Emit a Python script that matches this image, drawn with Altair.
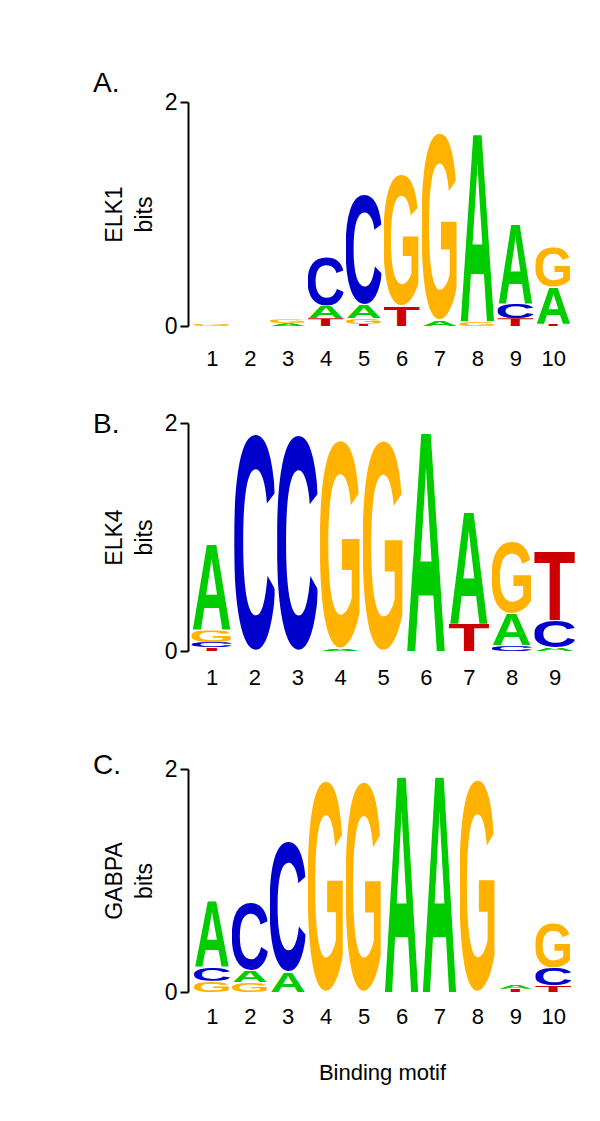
import base64
import altair as alt
import pandas as pd

# ---------------- data (information content in bits, read from the logos) ----------------
POS10 = [1, 2, 3, 4, 5, 6, 7, 8, 9, 10]
POS9 = [1, 2, 3, 4, 5, 6, 7, 8, 9]

ELK1_A = [0.0, 0.0, 0.025, 0.11, 0.12, 0.0, 0.05, 1.73, 0.73, 0.33]
ELK1_C = [0.0, 0.0, 0.0, 0.46, 1.02, 0.0, 0.0, 0.0, 0.13, 0.0]
ELK1_G = [0.02, 0.0, 0.035, 0.0, 0.05, 1.22, 1.74, 0.04, 0.0, 0.37]
ELK1_T = [0.0, 0.0, 0.0, 0.07, 0.02, 0.18, 0.0, 0.0, 0.07, 0.02]

ELK4_A = [0.77, 0.0, 0.0, 0.02, 0.0, 1.98, 1.02, 0.28, 0.03]
ELK4_C = [0.05, 1.98, 1.97, 0.0, 0.0, 0.0, 0.0, 0.05, 0.24]
ELK4_G = [0.10, 0.0, 0.0, 1.90, 1.92, 0.0, 0.0, 0.65, 0.0]
ELK4_T = [0.03, 0.0, 0.0, 0.0, 0.0, 0.0, 0.24, 0.0, 0.62]

GABPA_A = [0.61, 0.10, 0.18, 0.0, 0.0, 2.0, 2.0, 0.0, 0.04, 0.0]
GABPA_C = [0.12, 0.63, 1.22, 0.0, 0.0, 0.0, 0.0, 0.0, 0.0, 0.16]
GABPA_G = [0.10, 0.09, 0.0, 1.97, 1.96, 0.0, 0.0, 1.98, 0.0, 0.42]
GABPA_T = [0.0, 0.0, 0.0, 0.0, 0.0, 0.0, 0.0, 0.0, 0.03, 0.06]

LETTERS = ["A", "C", "G", "T"]

# ---------------- styles ----------------
FONT = "Liberation Sans"
COLORS = {"A": "#00CC00", "C": "#0000CC", "G": "#FFB300", "T": "#CC0000"}
# ink boxes of the bold glyphs in font units (1000/em), y upward
BBOX = {"A": (0, 0, 720, 716), "C": (46, -14, 681, 730),
        "G": (45, -14, 730, 730), "T": (21, 0, 590, 716)}


def glyph_url(letter):
    x0, y0, x1, y1 = BBOX[letter]
    w, h = x1 - x0, y1 - y0
    svg = (
        f'<svg xmlns="http://www.w3.org/2000/svg" width="{w}" height="{h}" '
        f'viewBox="{x0} {-y1} {w} {h}" preserveAspectRatio="none">'
        f'<text x="0" y="0" font-family="Liberation Sans, Arial, Helvetica, sans-serif" '
        f'font-weight="bold" font-size="1000" fill="{COLORS[letter]}">{letter}</text></svg>'
    )
    return "data:image/svg+xml;base64," + base64.b64encode(svg.encode()).decode()


URLS = {L: glyph_url(L) for L in LETTERS}


def panel(label, title_dy, cols, positions, domain, height, name, label_pad, xtitle=""):
    rows = []
    for letter, vals in zip(LETTERS, cols):
        for p, h in zip(positions, vals):
            if h > 0:
                rows.append({"pos": p, "letter": letter, "bits": h, "url": URLS[letter]})
    df = pd.DataFrame(rows)
    return (
        alt.Chart(df)
        .transform_window(
            top="sum(bits)",
            groupby=["pos"],
            sort=[alt.SortField("bits", order="ascending")],
            frame=[None, 0],
        )
        .transform_calculate(
            bottom="datum.top - datum.bits",
            left="datum.pos - 0.47",
            right="datum.pos + 0.47",
        )
        .mark_image(aspect=False, align="left", baseline="top")
        .encode(
            x=alt.X(
                "left:Q",
                scale=alt.Scale(domain=domain, nice=False, zero=False),
                axis=alt.Axis(
                    values=positions, format="d", domain=False, ticks=False, grid=False,
                    labelPadding=label_pad, labelFontSize=22, title=xtitle, titleFontSize=22,
                    titleFontWeight="normal", titlePadding=35,
                ),
            ),
            x2="right:Q",
            y=alt.Y(
                "top:Q",
                scale=alt.Scale(domain=[0, 2], nice=False),
                axis=alt.Axis(
                    values=[0, 1, 2], format="d", grid=False, domainWidth=2, tickWidth=2,
                    tickSize=8, labelPadding=3, labelFontSize=23, title=[name, "bits"],
                    titleFontSize=23, titleFontWeight="normal", titleLineHeight=30,
                    titlePadding=8,
                ),
            ),
            y2="bottom:Q",
            url="url:N",
        )
        .properties(
            width=388,
            height=height,
            title=alt.TitleParams(
                label, anchor="start", frame="group", dx=-95, dy=title_dy, fontSize=28,
                fontWeight="normal", font=FONT, color="black",
            ),
        )
    )


pA = panel("A.", 11, [ELK1_A, ELK1_C, ELK1_G, ELK1_T], POS10, [0.37, 10.6], 224, "ELK1", 22)
pB = panel("B.", 31, [ELK4_A, ELK4_C, ELK4_G, ELK4_T], POS9, [0.45, 9.5], 228, "ELK4", 16)
pC = panel("C.", 26, [GABPA_A, GABPA_C, GABPA_G, GABPA_T], POS10, [0.37, 10.6], 223, "GABPA", 14,
           xtitle="Binding motif")

chart = (
    alt.vconcat(pA, alt.vconcat(pB, pC, spacing=118, bounds="flush"), spacing=97, bounds="flush")
    .properties(padding={"left": 85, "top": 62, "right": 5, "bottom": 5})
    .configure(font=FONT)
    .configure_view(strokeWidth=0)
    .configure_axis(labelColor="black", titleColor="black", domainColor="black",
                    tickColor="black", labelFont=FONT, titleFont=FONT)
)

chart.save("out.html", embed_options={"renderer": "svg", "actions": False})
